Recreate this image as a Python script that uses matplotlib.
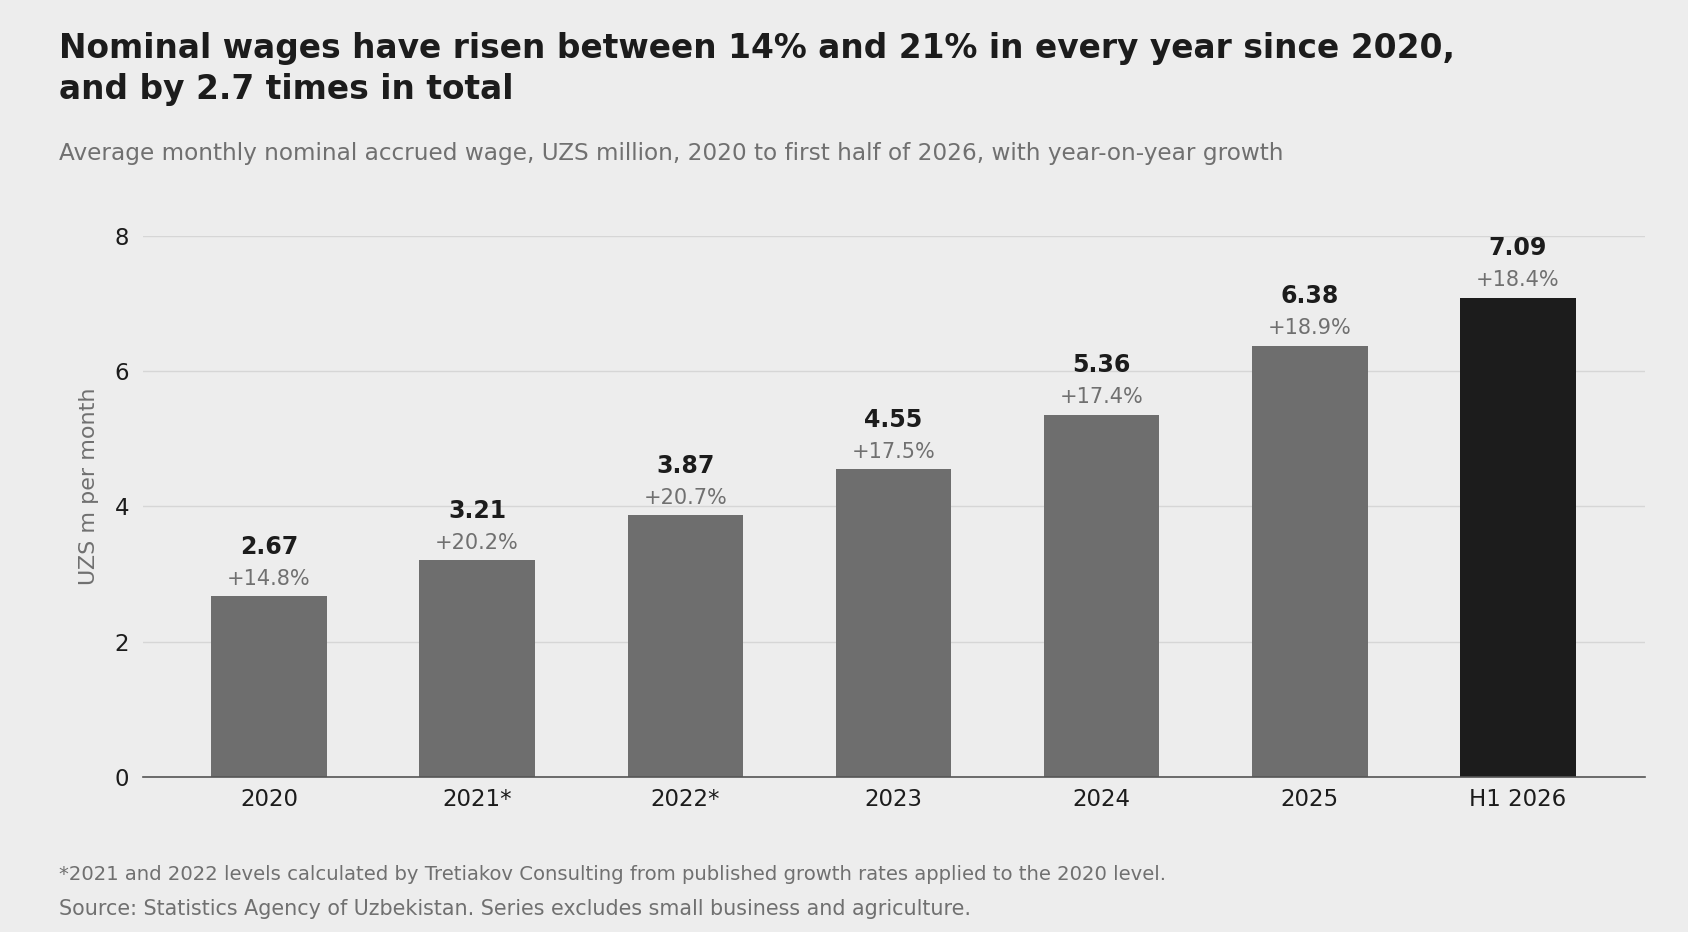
import matplotlib.pyplot as plt
import numpy as np

categories = ["2020", "2021*", "2022*", "2023", "2024", "2025", "H1 2026"]
wages = [2.67, 3.21, 3.87, 4.55, 5.36, 6.38, 7.09]
growth = ["+14.8%", "+20.2%", "+20.7%", "+17.5%", "+17.4%", "+18.9%", "+18.4%"]
yticks = [0, 2, 4, 6, 8]

BG = "#ededed"
BAR = "#6e6e6e"
LAST = "#1c1c1c"
DARK = "#1c1c1c"
GREY = "#707070"

fig = plt.figure(figsize=(16.88, 9.32), dpi=100, facecolor=BG)
ax = fig.add_axes([0.0847, 0.1663, 0.8898, 0.5805], facecolor=BG)

x = np.arange(len(categories))
colors = [BAR] * (len(categories) - 1) + [LAST]
ax.bar(x, wages, width=0.555, color=colors, zorder=3)

for xi, v, g in zip(x, wages, growth):
    ax.annotate(g, (xi, v), xytext=(0, 12.5), textcoords="offset points",
                ha="center", va="center", fontsize=15, color=GREY)
    ax.annotate(f"{v:.2f}", (xi, v), xytext=(0, 35.5), textcoords="offset points",
                ha="center", va="center", fontsize=17, fontweight="bold", color=DARK)

ax.set_xlim(-0.605, 6.61)
ax.set_ylim(0, 8)
ax.set_yticks(yticks)
ax.set_xticks(x)
ax.set_xticklabels(categories)
ax.tick_params(axis="x", length=0, labelsize=16.5, colors=DARK, pad=8)
ax.tick_params(axis="y", length=0, labelsize=16.5, colors=DARK, pad=10)
ax.grid(axis="y", color="#d6d6d6", linewidth=1, zorder=0)
for s in ["top", "right", "left"]:
    ax.spines[s].set_visible(False)
ax.spines["bottom"].set_color("#555555")
ax.spines["bottom"].set_linewidth(1.2)
ax.spines["bottom"].set_zorder(4)
ax.set_ylabel("UZS m per month", fontsize=16, color=GREY)
ax.yaxis.set_label_coords(-0.0294, 0.537)

fig.text(0.035, 0.926, "Nominal wages have risen between 14% and 21% in every year since 2020,\nand by 2.7 times in total",
         ha="left", va="center", fontsize=23.7, fontweight="bold", color=DARK, linespacing=1.33)
fig.text(0.035, 0.835, "Average monthly nominal accrued wage, UZS million, 2020 to first half of 2026, with year-on-year growth",
         ha="left", va="center", fontsize=16.7, color=GREY)
fig.text(0.035, 0.0615, "*2021 and 2022 levels calculated by Tretiakov Consulting from published growth rates applied to the 2020 level.",
         ha="left", va="center", fontsize=14.1, color=GREY)
fig.text(0.035, 0.0245, "Source: Statistics Agency of Uzbekistan. Series excludes small business and agriculture.",
         ha="left", va="center", fontsize=14.9, color=GREY)

fig.savefig("out.png", dpi=100, facecolor=BG)
